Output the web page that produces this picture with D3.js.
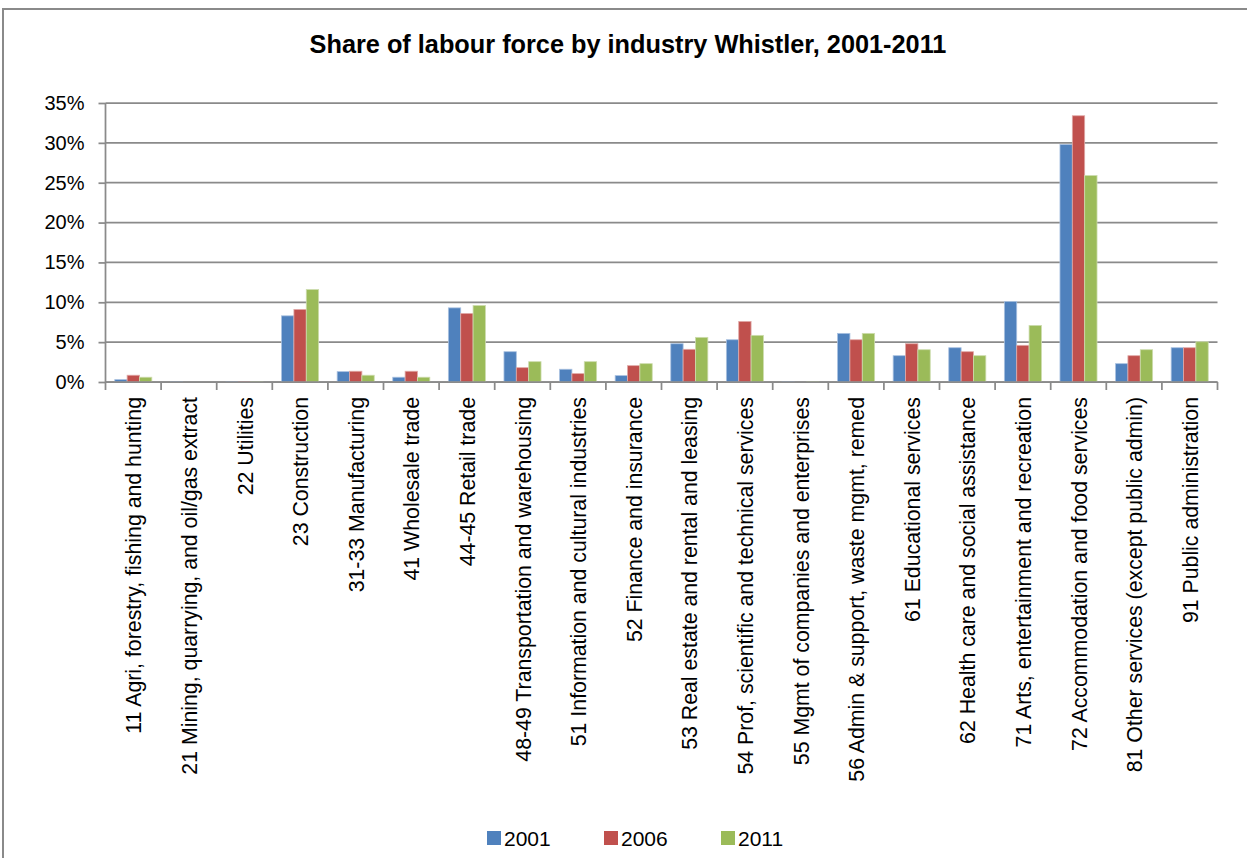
<!DOCTYPE html>
<html>
<head>
<meta charset="utf-8">
<script src="https://cdn.jsdelivr.net/npm/d3@7"></script>
<style>
  html, body { margin: 0; padding: 0; background: #fff; }
  svg { display: block; font-family: "Liberation Sans", Arial, sans-serif; }
</style>
</head>
<body>
<svg id="chart" width="1247" height="858"></svg>
<script>
// Industry categories (NAICS groupings)
const categories = [
  "11 Agri, forestry, fishing and hunting",
  "21 Mining, quarrying, and oil/gas extract",
  "22 Utilities",
  "23 Construction",
  "31-33 Manufacturing",
  "41 Wholesale trade",
  "44-45 Retail trade",
  "48-49 Transportation and warehousing",
  "51 Information and cultural industries",
  "52 Finance and insurance",
  "53 Real estate and rental and leasing",
  "54 Prof, scientific and technical services",
  "55 Mgmt of companies and enterprises",
  "56 Admin & support, waste mgmt, remed",
  "61 Educational services",
  "62 Health care and social assistance",
  "71 Arts, entertainment and recreation",
  "72 Accommodation and food services",
  "81 Other services (except public admin)",
  "91 Public administration"
];

const seriesNames = ["2001", "2006", "2011"];

// Share of labour force, percent
const share2001 = [0.3, 0.05, 0.05, 8.3, 1.3, 0.6, 9.3, 3.8, 1.6, 0.8, 4.8, 5.3, 0.05, 6.1, 3.3, 4.3, 10.1, 29.8, 2.3, 4.3];
const share2006 = [0.85, 0, 0.05, 9.1, 1.35, 1.35, 8.6, 1.8, 1.05, 2.05, 4.1, 7.6, 0, 5.3, 4.8, 3.8, 4.6, 33.4, 3.3, 4.3];
const share2011 = [0.6, 0, 0.05, 11.6, 0.85, 0.6, 9.6, 2.55, 2.55, 2.3, 5.6, 5.85, 0.05, 6.1, 4.05, 3.3, 7.1, 25.9, 4.05, 5.05];

const yTicks = [0, 5, 10, 15, 20, 25, 30, 35];

const seriesValues = [share2001, share2006, share2011];
const colors = ["#4F81BD", "#C0504D", "#9BBB59"];
const strokes = ["#a9c1e0", "#e0a9a7", "#cddcae"];

const svg = d3.select("#chart");
const axisColor = "#8a8a8a";

// Outer chart frame
svg.append("rect")
  .attr("x", 3).attr("y", 9)
  .attr("width", 1260).attr("height", 880)
  .attr("fill", "#fff")
  .attr("stroke", axisColor)
  .attr("stroke-width", 2);

// Title
svg.append("text")
  .attr("x", 628).attr("y", 53)
  .attr("text-anchor", "middle")
  .attr("font-weight", "bold")
  .attr("font-size", 25.3)
  .attr("fill", "#000")
  .text("Share of labour force by industry Whistler, 2001-2011");

const plot = { left: 105.5, right: 1217.5, top: 103, bottom: 382 };

const x = d3.scaleBand()
  .domain(categories)
  .range([plot.left, plot.right])
  .paddingInner(0).paddingOuter(0);

const xSub = d3.scaleBand()
  .domain(seriesNames)
  .range([0, x.bandwidth()])
  .paddingInner(0).paddingOuter(0.75);

const y = d3.scaleLinear()
  .domain([0, 35])
  .range([plot.bottom, plot.top]);

// Horizontal gridlines
svg.append("g")
  .selectAll("line")
  .data(yTicks)
  .join("line")
  .attr("x1", plot.left).attr("x2", plot.right)
  .attr("y1", d => y(d)).attr("y2", d => y(d))
  .attr("stroke", axisColor)
  .attr("stroke-width", 1.75);

// Y axis
const yAxis = svg.append("g")
  .attr("transform", `translate(${plot.left},0)`)
  .call(d3.axisLeft(y).tickValues(yTicks).tickSize(7).tickPadding(14).tickFormat(d => d + "%"));
yAxis.select(".domain").remove();
yAxis.selectAll(".tick line").attr("stroke", axisColor).attr("stroke-width", 1.75);
yAxis.selectAll(".tick text")
  .attr("font-size", 20)
  .attr("font-family", "Liberation Sans, Arial, sans-serif")
  .attr("fill", "#000");
yAxis.append("line")
  .attr("x1", 0).attr("x2", 0)
  .attr("y1", plot.top).attr("y2", plot.bottom)
  .attr("stroke", axisColor).attr("stroke-width", 1.75);

// Bars
const groups = svg.append("g")
  .selectAll("g")
  .data(categories)
  .join("g")
  .attr("transform", d => `translate(${x(d)},0)`);

groups.selectAll("rect")
  .data((d, i) => seriesNames.map((s, k) => ({ s, k, v: seriesValues[k][i] })))
  .join("rect")
  .attr("x", d => xSub(d.s))
  .attr("width", xSub.bandwidth())
  .attr("y", d => y(d.v))
  .attr("height", d => y(0) - y(d.v))
  .attr("fill", d => colors[d.k])
  .attr("stroke", d => strokes[d.k])
  .attr("stroke-width", 0.8);

// X axis with ticks at category boundaries
const xAxisG = svg.append("g");
xAxisG.append("line")
  .attr("x1", plot.left).attr("x2", plot.right)
  .attr("y1", plot.bottom).attr("y2", plot.bottom)
  .attr("stroke", axisColor).attr("stroke-width", 1.75);
const boundaries = categories.map(c => x(c)).concat([plot.right]);
xAxisG.selectAll("line.tk")
  .data(boundaries)
  .join("line")
  .attr("class", "tk")
  .attr("x1", d => d).attr("x2", d => d)
  .attr("y1", plot.bottom).attr("y2", plot.bottom + 8)
  .attr("stroke", axisColor).attr("stroke-width", 1.75);

// Rotated category labels
xAxisG.selectAll("text")
  .data(categories)
  .join("text")
  .attr("transform", d => `translate(${x(d) + x.bandwidth() / 2 + 8},397) rotate(-90)`)
  .attr("text-anchor", "end")
  .attr("font-size", 21.3)
  .attr("fill", "#000")
  .text(d => d);

// Legend
const legend = svg.append("g").attr("transform", "translate(487,838)");
const items = legend.selectAll("g")
  .data(seriesNames)
  .join("g")
  .attr("transform", (d, i) => `translate(${i * 117},0)`);
items.append("rect")
  .attr("x", 0).attr("y", -7)
  .attr("width", 14).attr("height", 14)
  .attr("fill", (d, i) => colors[i]);
items.append("text")
  .attr("x", 17).attr("y", 7.5)
  .attr("font-size", 21)
  .attr("fill", "#000")
  .text(d => d);
</script>
</body>
</html>
